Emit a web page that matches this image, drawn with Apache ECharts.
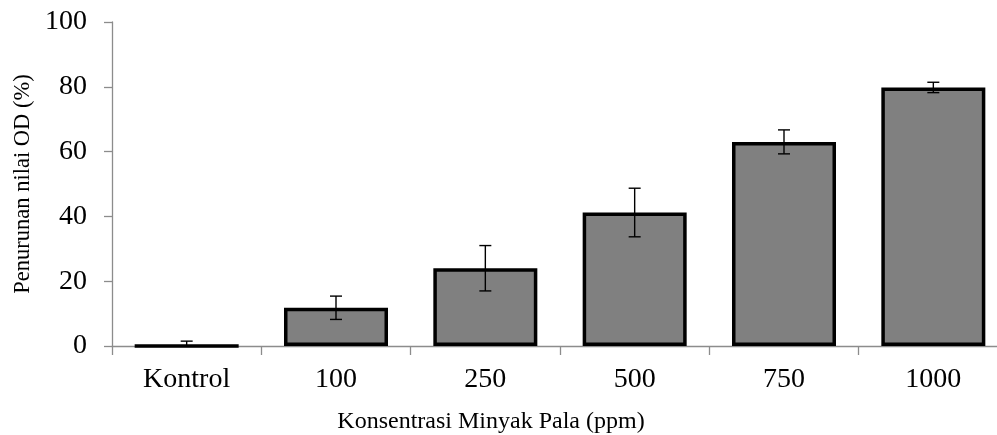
<!DOCTYPE html>
<html>
<head>
<meta charset="utf-8">
<script src="https://cdn.jsdelivr.net/npm/echarts@6/dist/echarts.min.js"></script>
<style>
  html, body { margin: 0; padding: 0; background: #fff; }
  #chart { width: 997px; height: 435px; }
</style>
</head>
<body>
<div id="chart"></div>
<script>
var categories = ["Kontrol", "100", "250", "500", "750", "1000"];
var penurunan = [0, 11.8, 24.0, 41.2, 63.0, 79.8];
var galat = [1.5, 3.6, 7.0, 7.5, 3.7, 1.6];

function init_chart_penurunan(container) {
  var chartDom = document.getElementById(container);
  var myChart = echarts.init(chartDom);
  var serif = "'Liberation Serif', 'Times New Roman', serif";

  // data untuk error bar: [index, bawah, atas]
  var errData = penurunan.map(function (v, i) {
    return [i, v - galat[i], v + galat[i]];
  });

  var option = {
    animation: false,
    grid: { left: 112, right: -11, top: 22, bottom: 89, outerBoundsMode: "none", containLabel: false },
    xAxis: {
      type: "category",
      data: categories,
      name: "Konsentrasi Minyak Pala (ppm)",
      nameLocation: "middle",
      nameGap: 64,
      // judul sumbu x sedikit ke kiri dari tengah grid
      nameTextStyle: { fontFamily: serif, fontSize: 24, color: "#000", padding: [0, 138, 0, 0] },
      axisLine: { lineStyle: { color: "#8c8c8c", width: 1.3 } },
      axisTick: { show: true, length: 9, lineStyle: { color: "#8c8c8c", width: 1.3 } },
      axisLabel: { fontFamily: serif, fontSize: 28, color: "#000", margin: 20 },
    },
    yAxis: {
      type: "value",
      min: 0,
      max: 100,
      interval: 20,
      name: "Penurunan nilai OD (%)",
      nameLocation: "middle",
      nameGap: 76,
      nameTextStyle: { fontFamily: serif, fontSize: 22.5, color: "#000" },
      splitLine: { show: false },
      axisLine: { show: true, lineStyle: { color: "#8c8c8c", width: 1.3 } },
      axisTick: { show: true, length: 8, lineStyle: { color: "#8c8c8c", width: 1.3 } },
      axisLabel: { fontFamily: serif, fontSize: 28, color: "#000", margin: 25 },
    },
    series: [
      {
        type: "bar",
        data: penurunan,
        barWidth: 104,
        itemStyle: { color: "#808080", borderColor: "#000", borderWidth: 3.5 },
      },
      {
        type: "custom",
        data: errData,
        z: 10,
        clip: true,
        renderItem: function (params, api) {
          var lo = api.coord([api.value(0), api.value(1)]);
          var hi = api.coord([api.value(0), api.value(2)]);
          var half = 6;
          var style = { stroke: "#000", lineWidth: 1.4 };
          return {
            type: "group",
            children: [
              { type: "line", shape: { x1: hi[0], y1: hi[1], x2: lo[0], y2: lo[1] }, style: style },
              { type: "line", shape: { x1: hi[0] - half, y1: hi[1], x2: hi[0] + half, y2: hi[1] }, style: style },
              { type: "line", shape: { x1: lo[0] - half, y1: lo[1], x2: lo[0] + half, y2: lo[1] }, style: style },
            ],
          };
        },
      },
    ],
  };

  myChart.setOption(option);
}

init_chart_penurunan("chart");
</script>
</body>
</html>
